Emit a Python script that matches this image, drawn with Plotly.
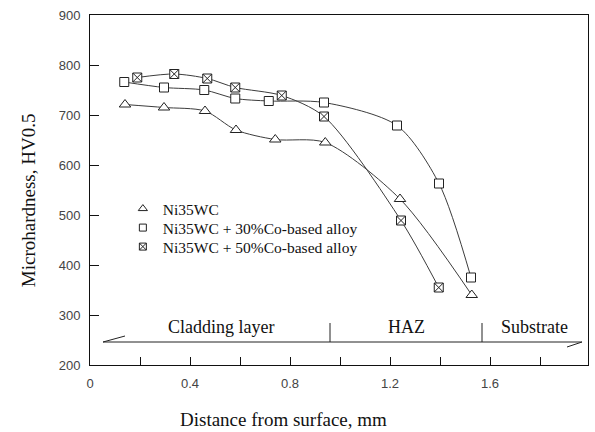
import plotly.graph_objects as go

# ---- data ----
x_ni35 = [0.14, 0.296, 0.46, 0.584, 0.741, 0.941, 1.24, 1.527]
y_ni35 = [721, 715, 708, 670, 651, 645, 532, 340]

x_co30 = [0.137, 0.296, 0.457, 0.581, 0.715, 0.936, 1.228, 1.396, 1.524]
y_co30 = [766, 755, 750, 733, 728, 725, 679, 563, 375]

x_co50 = [0.189, 0.337, 0.469, 0.581, 0.767, 0.936, 1.244, 1.395]
y_co50 = [775, 782, 773, 755, 739, 697, 489, 355]

series_names = ["Ni35WC", "Ni35WC + 30%Co-based alloy", "Ni35WC + 50%Co-based alloy"]

x_tickvals = [0, 0.2, 0.4, 0.6, 0.8, 1.0, 1.2, 1.4, 1.6, 1.8]
x_ticktext = ["0", "", "0.4", "", "0.8", "", "1.2", "", "1.6", ""]
y_tickvals = [200, 300, 400, 500, 600, 700, 800, 900]
y_ticktext = ["200", "300", "400", "500", "600", "700", "800", "900"]

# zone bar (distance-from-surface regions)
zone_bounds = [0.052, 0.96, 1.568, 1.968]
zone_labels = ["Cladding layer", "HAZ", "Substrate"]
zone_label_x = [0.524, 1.264, 1.776]
zone_line_y = 246
zone_tick_top = 284
zone_label_y = 276

LINE = "#3c3c3c"
SERIF = "Liberation Serif, Times New Roman, serif"
SANS = "Liberation Sans, Arial, sans-serif"

fig = go.Figure()

symbols = ["triangle-up", "square", "square-x"]
sizes = [10, 9, 9]
data = [(x_ni35, y_ni35), (x_co30, y_co30), (x_co50, y_co50)]

for (xs, ys), sym, sz, name in zip(data, symbols, sizes, series_names):
    fig.add_trace(go.Scatter(
        x=xs, y=ys, mode="lines+markers", name=name, showlegend=False,
        line=dict(color=LINE, width=1, shape="spline", smoothing=0.8),
        marker=dict(symbol=sym, size=sz, color="white",
                    line=dict(color="#222222", width=1)),
    ))

legend_ids = ["legend", "legend2", "legend3"]
legend_y = [0.4457, 0.3914, 0.3371]
for sym, sz, name, lid in zip(symbols, sizes, series_names, legend_ids):
    fig.add_trace(go.Scatter(
        x=[None], y=[None], mode="markers", name=name, legend=lid,
        marker=dict(symbol=sym, size=sz - 2, color="white",
                    line=dict(color="#222222", width=1)),
    ))

legend_common = dict(x=0.066, xanchor="left", yanchor="middle",
                     bgcolor="rgba(0,0,0,0)",
                     font=dict(family=SERIF, size=15.5, color="#111"))

# zone bar shapes
x0, x1 = zone_bounds[0], zone_bounds[-1]
fig.add_shape(type="line", x0=x0, x1=x1, y0=zone_line_y, y1=zone_line_y,
              xref="x", yref="y", line=dict(color="#222", width=1))
for b in zone_bounds[1:-1]:
    fig.add_shape(type="line", x0=b, x1=b, y0=zone_line_y, y1=zone_tick_top,
                  xref="x", yref="y", line=dict(color="#222", width=1))
# half arrow heads at both ends
fig.add_shape(type="line", x0=x0, x1=x0 + 0.088, y0=zone_line_y, y1=zone_line_y + 12,
              xref="x", yref="y", line=dict(color="#222", width=1))
fig.add_shape(type="line", x0=x1, x1=x1 - 0.06, y0=zone_line_y, y1=zone_line_y - 10,
              xref="x", yref="y", line=dict(color="#222", width=1))

for lx, lab in zip(zone_label_x, zone_labels):
    fig.add_annotation(x=lx, y=zone_label_y, xref="x", yref="y", text=lab,
                       showarrow=False, font=dict(family=SERIF, size=18, color="#111"))

# axis titles
fig.add_annotation(x=-0.1245, y=0.471, xref="paper", yref="paper",
                   xanchor="center", yanchor="middle",
                   text="Microhardness, HV0.5", textangle=-90, showarrow=False,
                   font=dict(family=SERIF, size=19, color="#111"))
fig.add_annotation(x=0.3876, y=-0.1543, xref="paper", yref="paper",
                   xanchor="center", yanchor="middle",
                   text="Distance from surface, mm", showarrow=False,
                   font=dict(family=SERIF, size=19, color="#111"))

fig.update_layout(
    width=595, height=432,
    margin=dict(l=90, r=7, t=15, b=67),
    paper_bgcolor="white", plot_bgcolor="white",
    legend=dict(y=legend_y[0], **legend_common),
    legend2=dict(y=legend_y[1], **legend_common),
    legend3=dict(y=legend_y[2], **legend_common),
)
fig.update_xaxes(range=[0, 1.992], showgrid=False, zeroline=False,
                 showline=True, mirror=True, linecolor="#111", linewidth=1,
                 tickmode="array", tickvals=x_tickvals, ticktext=x_ticktext,
                 ticks="inside", ticklen=8, tickcolor="#111",
                 tickfont=dict(family=SANS, size=13, color="#444"),
                 ticklabelstandoff=6)
fig.update_yaxes(range=[200, 900], showgrid=False, zeroline=False,
                 showline=True, mirror=True, linecolor="#111", linewidth=1,
                 tickmode="array", tickvals=y_tickvals, ticktext=y_ticktext,
                 ticks="inside", ticklen=9, tickcolor="#111",
                 tickfont=dict(family=SANS, size=13, color="#444"),
                 ticklabelstandoff=6)

fig.write_html("out.html")
